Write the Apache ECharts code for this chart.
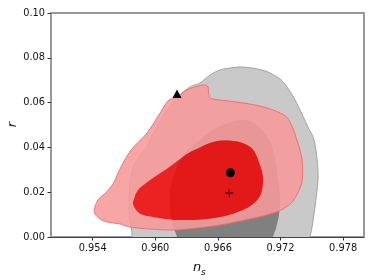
<!DOCTYPE html>
<html>
<head>
<meta charset="utf-8">
<script src="https://cdn.jsdelivr.net/npm/echarts@6/dist/echarts.min.js"></script>
<style>
html,body{margin:0;padding:0;background:#fff;}
#c{width:374px;height:280px;}
</style>
</head>
<body>
<div id="c"></div>
<script>
// ---- data (ns, r) ----
const nsTicks = [0.954, 0.960, 0.966, 0.972, 0.978];
const rTicks = [0, 0.02, 0.04, 0.06, 0.08, 0.10];

const grayOuterNs = [0.95776,0.95774,0.95751,0.95751,0.95757,0.95805,0.95911,0.96016,0.96112,0.96236,0.96332,0.96428,0.96524,0.96620,0.96716,0.96812,0.96927,0.97022,0.97099,0.97195,0.97262,0.97329,0.97387,0.97463,0.97521,0.97550,0.97559,0.97530,0.97502,0.97483,0.97470,0.95790];
const grayOuterR  = [0,0.00312,0.00893,0.01652,0.02411,0.03303,0.03973,0.04910,0.05669,0.06339,0.06696,0.06875,0.07232,0.07455,0.07544,0.07589,0.07544,0.07455,0.07321,0.07053,0.06696,0.06205,0.05669,0.04910,0.04330,0.03437,0.02544,0.01339,0.00446,0,-0.004,-0.004];

const grayInnerNs = [0.96208,0.96160,0.96141,0.96141,0.96179,0.96236,0.96313,0.96428,0.96524,0.96649,0.96812,0.96907,0.96975,0.97070,0.97128,0.97176,0.97195,0.97185,0.97157,0.97128,0.97120,0.96215];
const grayInnerR  = [0,0.00670,0.01428,0.02098,0.02768,0.03437,0.03884,0.04330,0.04687,0.05000,0.05223,0.05178,0.05000,0.04464,0.03884,0.02678,0.01652,0.00982,0.00402,0,-0.004,-0.004];

const redOuterNs = [0.96121,0.96208,0.96304,0.96409,0.96476,0.96505,0.96514,0.96553,0.96783,0.97042,0.97233,0.97300,0.97348,0.97387,0.97406,0.97411,0.97387,0.97320,0.97224,0.97099,0.96946,0.96620,0.96304,0.96112,0.95786,0.95661,0.95537,0.95470,0.95422,0.95417,0.95450,0.95537,0.95604,0.95661,0.95767,0.95920,0.96045];
const redOuterR  = [0.06071,0.06250,0.06562,0.06741,0.06785,0.06696,0.06339,0.06160,0.06026,0.05803,0.05446,0.05044,0.04464,0.03884,0.03437,0.02678,0.02187,0.01607,0.01250,0.01027,0.00848,0.00536,0.00357,0.00312,0.00424,0.00580,0.00670,0.00804,0.01027,0.01250,0.01652,0.02031,0.02455,0.03036,0.03884,0.04643,0.05535];

const redInnerNs = [0.95786,0.95796,0.95834,0.95949,0.96121,0.96304,0.96399,0.96524,0.96649,0.96783,0.96879,0.96946,0.97003,0.97032,0.97022,0.96984,0.96879,0.96668,0.96428,0.96236,0.96093,0.95978,0.95882,0.95824];
const redInnerR  = [0.01473,0.01696,0.02098,0.02544,0.03080,0.03705,0.03928,0.04196,0.04308,0.04263,0.04107,0.03839,0.03214,0.02634,0.02098,0.01696,0.01295,0.00937,0.00781,0.00759,0.00804,0.00893,0.00982,0.01161];

const triangleNs = [0.96208], triangleR = [0.06397];
const circleNs = [0.96719], circleR = [0.02870];
const plusNs = [0.96709], plusR = [0.01964];

// ---- helpers ----
function toPx(api, ns, r) { return ns.map((v, i) => api.coord([v, r[i]])); }
function signedArea(p) { let a = 0; for (let i = 0; i < p.length; i++) { const q = p[(i + 1) % p.length]; a += p[i][0] * q[1] - q[0] * p[i][1]; } return a / 2; }
function smoothPath(p) {
  const n = p.length;
  let d = 'M' + p[0][0].toFixed(2) + ' ' + p[0][1].toFixed(2);
  for (let i = 0; i < n; i++) {
    const p0 = p[(i - 1 + n) % n], p1 = p[i], p2 = p[(i + 1) % n], p3 = p[(i + 2) % n];
    const c1 = [p1[0] + (p2[0] - p0[0]) / 6, p1[1] + (p2[1] - p0[1]) / 6];
    const c2 = [p2[0] - (p3[0] - p1[0]) / 6, p2[1] - (p3[1] - p1[1]) / 6];
    d += 'C' + c1[0].toFixed(2) + ' ' + c1[1].toFixed(2) + ' ' + c2[0].toFixed(2) + ' ' + c2[1].toFixed(2) + ' ' + p2[0].toFixed(2) + ' ' + p2[1].toFixed(2);
  }
  return d + 'Z';
}
function layer(name, buildPath, style) {
  return {
    type: 'custom', name: name, coordinateSystem: 'cartesian2d', clip: true, silent: true,
    data: [[0.965, 0.05]],
    renderItem: function (params, api) {
      return { type: 'path', shape: { pathData: buildPath(api) }, style: style };
    }
  };
}

const grayOuterPath = api => smoothPath(toPx(api, grayOuterNs, grayOuterR));
const grayInnerPath = api => smoothPath(toPx(api, grayInnerNs, grayInnerR));
const redOuterPath = api => smoothPath(toPx(api, redOuterNs, redOuterR));
const redInnerPath = api => smoothPath(toPx(api, redInnerNs, redInnerR));
const redRingPath = api => {
  const o = toPx(api, redOuterNs, redOuterR);
  let inn = toPx(api, redInnerNs, redInnerR);
  if (Math.sign(signedArea(o)) === Math.sign(signedArea(inn))) inn = inn.slice().reverse();
  return smoothPath(o) + ' ' + smoothPath(inn);
};

const chart = echarts.init(document.getElementById('c'), null, { renderer: 'canvas' });
const tickFont = { fontFamily: 'DejaVu Sans', fontSize: 9.8, color: '#111' };
chart.setOption({
  animation: false,
  backgroundColor: '#fff',
  grid: { left: 51, right: 10, top: 13, bottom: 43, show: true, borderColor: '#333', borderWidth: 1, backgroundColor: 'transparent' },
  xAxis: [{
    type: 'value', min: 0.950, max: 0.980,
    splitLine: { show: false },
    axisLine: { show: true, lineStyle: { color: '#444', width: 1.2 } },
    axisTick: { show: true, length: 3.5, lineStyle: { color: '#333' }, customValues: nsTicks },
    axisLabel: Object.assign({ margin: 6, customValues: nsTicks, formatter: v => v.toFixed(3) }, tickFont)
  }],
  yAxis: [{
    type: 'value', min: 0, max: 0.10, interval: 0.02,
    splitLine: { show: false },
    axisLine: { show: true, onZero: false, lineStyle: { color: '#999', width: 2 } },
    axisTick: { show: true, length: 3.5, lineStyle: { color: '#333' } },
    axisLabel: Object.assign({ margin: 6, formatter: v => v.toFixed(2) }, tickFont)
  }, {
    type: 'value', min: 0, max: 0.10, position: 'right',
    splitLine: { show: false },
    axisLine: { show: true, onZero: false, lineStyle: { color: '#999', width: 2 } },
    axisTick: { show: false }, axisLabel: { show: false }
  }],
  series: [
    layer('grayOuter', grayOuterPath, { fill: '#c9c9c9', stroke: null }),
    layer('grayInner', grayInnerPath, { fill: '#808080', stroke: null }),
    layer('grayOutline', grayOuterPath, { fill: null, stroke: '#a3a3a3', lineWidth: 1 }),
    layer('redRing', redRingPath, { fill: 'rgba(247,153,153,0.88)', stroke: null }),
    layer('redInner', redInnerPath, { fill: 'rgba(240,10,10,0.88)', stroke: null }),
    layer('redOutline', redOuterPath, { fill: null, stroke: '#f26a6a', lineWidth: 0.9 }),
    {
      type: 'scatter', symbol: 'triangle', symbolSize: [9, 8.5], silent: true,
      itemStyle: { color: '#000', opacity: 1 },
      data: triangleNs.map((v, i) => [v, triangleR[i]])
    },
    {
      type: 'scatter', symbol: 'circle', symbolSize: 9, silent: true,
      itemStyle: { color: '#000', opacity: 1 },
      data: circleNs.map((v, i) => [v, circleR[i]])
    },
    {
      type: 'scatter', symbol: 'path://M0,4.4h10v1.2h-10z M4.4,0h1.2v10h-1.2z', symbolSize: 8, silent: true,
      itemStyle: { color: '#000', opacity: 1 },
      data: plusNs.map((v, i) => [v, plusR[i]])
    }
  ],
  graphic: [
    { type: 'text', x: 13, y: 124.7, rotation: Math.PI / 2, silent: true,
      style: { text: 'r', fontFamily: 'DejaVu Sans', fontStyle: 'italic', fontSize: 13, fill: '#111', align: 'center', verticalAlign: 'middle' } },
    { type: 'text', x: 197, y: 267.5, silent: true,
      style: { text: 'n', fontFamily: 'DejaVu Sans', fontStyle: 'italic', fontSize: 13, fill: '#111', align: 'center', verticalAlign: 'middle' } },
    { type: 'text', x: 201, y: 272.5, silent: true,
      style: { text: 's', fontFamily: 'DejaVu Sans', fontStyle: 'italic', fontSize: 9, fill: '#111', align: 'left', verticalAlign: 'middle' } }
  ]
});
</script>
</body>
</html>
